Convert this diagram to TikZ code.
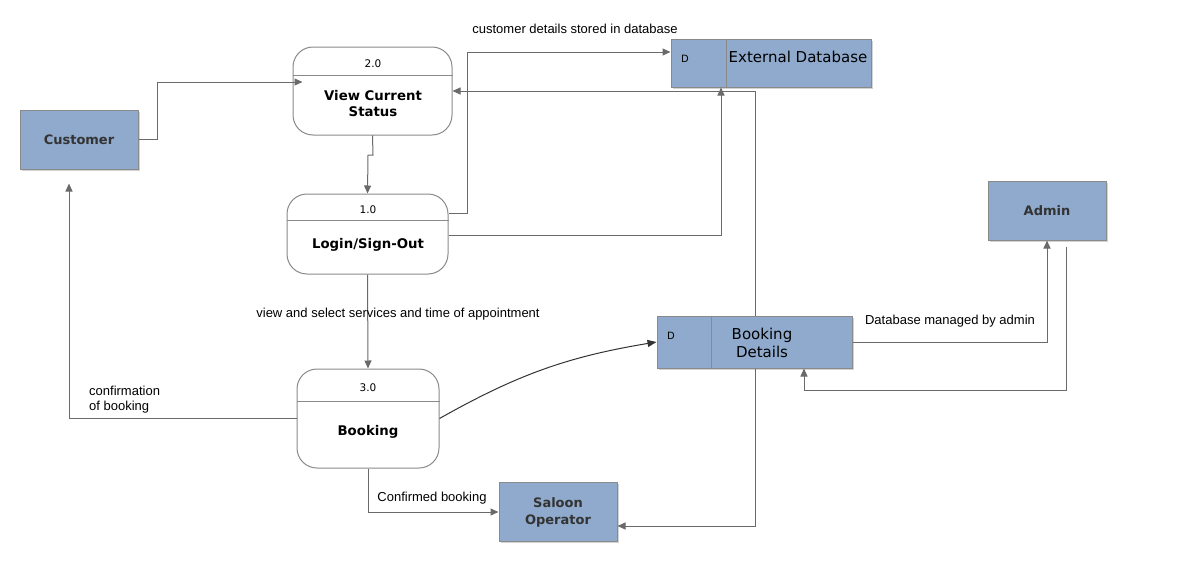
\documentclass[tikz,border=0pt]{standalone}
\usepackage{fontspec}
\setmainfont{Liberation Sans}
\newfontfamily\verd{DejaVu Sans}
\usetikzlibrary{positioning,shadows,arrows.meta}
\definecolor{entblue}{HTML}{8FAACC}
\definecolor{edgegray}{HTML}{6A6A6A}
\definecolor{boxgray}{HTML}{8A8A8A}
\tikzset{
  entity/.style={draw=boxgray, line width=1pt, fill=entblue, minimum width=118pt, minimum height=59pt,
    align=center, text=black!80, font=\verd\bfseries\fontsize{13}{17}\selectfont,
    drop shadow={opacity=.35, shadow xshift=1.5pt, shadow yshift=-1.5pt}},
  process/.style={draw=boxgray, line width=1pt, rounded corners=20pt, fill=white},
  store/.style={draw=boxgray, line width=1pt, fill=entblue,
    drop shadow={opacity=.35, shadow xshift=1.5pt, shadow yshift=-1.5pt}},
  pnum/.style={font=\verd\fontsize{10.5}{12}\selectfont},
  ptext/.style={font=\verd\bfseries\fontsize{13.3}{16}\selectfont, align=center},
  stext/.style={font=\verd\fontsize{15}{18}\selectfont, align=center},
  dtext/.style={font=\verd\fontsize{10}{12}\selectfont},
  flow/.style={draw=edgegray, line width=1pt, -{Triangle[length=8pt,width=7pt]}},
  curveflow/.style={draw=black!80, line width=1pt, -{Triangle[length=9pt,width=7pt]}},
  lbl/.style={font=\fontsize{13}{15}\selectfont, inner sep=0pt}
}
\begin{document}
\begin{tikzpicture}[x=1pt, y=-1pt]
  \useasboundingbox (0,0) rectangle (1189,565);

  \node[entity] (customer) at (79,139.5) {Customer};
  \node[entity] (admin) at (1047,210.5) {Admin};
  \node[entity] (saloon) at (558,512) {Saloon\\Operator};

  \node[process, minimum width=159pt, minimum height=88pt] (view) at (372.5,91) {};
  \draw[boxgray, line width=1pt] (view.west |- 0,75) -- (view.east |- 0,75);
  \node[pnum] (viewno) at (373,64) {2.0};
  \node[ptext] (viewtxt) at (373,104) {View Current\\Status};

  \node[process, minimum width=161pt, minimum height=80pt] (login) at (367.5,234) {};
  \draw[boxgray, line width=1pt] (login.west |- 0,220) -- (login.east |- 0,220);
  \node[pnum] (loginno) at (368,210) {1.0};
  \node[ptext] (logintxt) at (368,245) {Login/Sign-Out};

  \node[process, minimum width=142pt, minimum height=99pt] (book) at (368,418.5) {};
  \draw[boxgray, line width=1pt] (book.west |- 0,401) -- (book.east |- 0,401);
  \node[pnum] (bookno) at (368,388) {3.0};
  \node[ptext] (booktxt) at (368,432) {Booking};

  \node[store, minimum width=200pt, minimum height=48pt] (extdb) at (771,63) {};
  \draw[boxgray, line width=1pt] (726,0 |- extdb.north) -- (726,0 |- extdb.south);
  \node[dtext] (extd) at (685,59) {D};
  \node[stext] (extname) at (798,57) {External Database};

  \node[store, minimum width=195pt, minimum height=52pt] (bookdb) at (754.5,342) {};
  \draw[boxgray, line width=1pt] (711,0 |- bookdb.north) -- (711,0 |- bookdb.south);
  \node[dtext] (bookd) at (671,336) {D};
  \node[stext, text depth=0pt] (bookname) at (762,343) {Booking\\Details};

  \draw[flow] (customer.east) -- (157,139.5) |- ([xshift=10pt,yshift=9pt]view.west);
  \draw[flow] (view.south) -- (373,155) -- (368,155) -- (login.north);
  \draw[flow] ([yshift=21pt]login.east) -- (467,213) |- ([yshift=11pt]extdb.west);
  \draw[flow] ([yshift=-1pt]login.east) -- (721,235) -- (extdb.south -| 721,0);
  \draw[flow] (bookdb.north -| 755,0) -- (755,91) -- (view.east);
  \draw[flow] (bookdb.south -| 755,0) -- (755,526) -- ([yshift=-14pt]saloon.east);
  \draw[flow] (login.south) -- (book.north);
  \draw[flow, shorten >=14pt] (book.west) -| (customer.south -| 69,0);
  \draw[curveflow] (book.east) to[bend left=10] (bookdb.west);
  \draw[flow] (book.south) |- (saloon.west);
  \draw[flow] (bookdb.east) -| (admin.south);
  \draw[flow] ([xshift=19pt,yshift=-6pt]admin.south) -- (1066,390) -- (804,390) -- (bookdb.south -| 804,0);

  \node[lbl] (lstored) at (575,29) {customer details stored in database};
  \node[lbl] (lselect) at (398,314) {view and select services and time of appointment};
  \node[lbl, anchor=west, align=left] (lconfirm) at (89,400) {confirmation\\of booking};
  \node[lbl] (lconfirmed) at (432,498) {Confirmed booking};
  \node[lbl] (lmanaged) at (950,321) {Database managed by admin};
\end{tikzpicture}
\end{document}
